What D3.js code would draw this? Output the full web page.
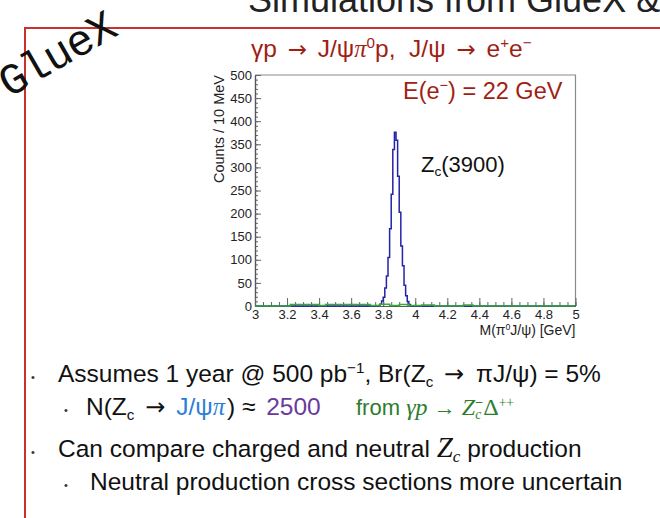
<!DOCTYPE html>
<html>
<head>
<meta charset="utf-8">
<script src="https://cdn.jsdelivr.net/npm/d3@7"></script>
<style>
  html, body { margin: 0; padding: 0; background: #fff; }
  svg { display: block; }
  text { white-space: pre; }
</style>
</head>
<body>
<svg id="slide" width="660" height="518"></svg>
<script>
// pi0 J/psi invariant mass from Z_c(3900) decays, 10 MeV bins (low edges, GeV)
const signalBinLow = [3.77, 3.78, 3.79, 3.80, 3.81, 3.82, 3.83, 3.84, 3.85, 3.86,
                      3.87, 3.88, 3.89, 3.90, 3.91, 3.92, 3.93, 3.94, 3.95, 3.96];
const signalCounts = [1, 4, 11, 19, 39, 65, 105, 167, 242, 339,
                      376, 359, 281, 203, 130, 87, 45, 22, 10, 3];
const binWidth = 0.01;

// non-resonant background, variable-width bins
const bkgEdges  = [3.0, 3.22, 3.40, 3.44, 3.72, 3.78, 3.84, 3.90, 3.96, 4.04, 4.12, 4.30, 4.36, 5.0];
const bkgCounts = [0, 3, 1, 3, 1, 4, 1, 3, 1, 2, 0, 2, 0];

const massRange  = [3, 5];
const countRange = [0, 500];
const xMajorTicks = [3, 3.2, 3.4, 3.6, 3.8, 4, 4.2, 4.4, 4.6, 4.8, 5];
const yMajorTicks = [0, 50, 100, 150, 200, 250, 300, 350, 400, 450, 500];

const svg = d3.select("#slide");
const SANS = "'Liberation Sans', Arial, Helvetica, sans-serif";
const SERIF = "'Liberation Serif', 'Times New Roman', serif";
const ARROWFONT = "'DejaVu Sans', sans-serif";
const DARKRED = "#a01e14";

// rich text: parts with optional colour, italics, serif, arrow font and sub/superscript shifts
function rich(sel, parts, baseSize) {
  let cur = 0;
  parts.forEach(p => {
    const t = sel.append("tspan").text(p.t);
    const shift = p.sup ? -baseSize * 0.38 : p.sub ? baseSize * 0.2 : 0;
    if (shift !== cur) { t.attr("dy", shift - cur); cur = shift; }
    if (p.sup || p.sub) t.attr("font-size", baseSize * 0.62);
    if (p.size) t.attr("font-size", p.size);
    if (p.dx) t.attr("dx", p.dx);
    if (p.fill) t.attr("fill", p.fill);
    if (p.italic) t.attr("font-style", "italic");
    if (p.serif) t.attr("font-family", SERIF);
    if (p.arrow) t.attr("font-family", ARROWFONT);
  });
  return sel;
}

// ---------- slide chrome ----------
svg.append("text")
  .attr("x", 248).attr("y", 12)
  .attr("font-family", SANS).attr("font-size", 36).attr("fill", "#222")
  .text("Simulations from GlueX &");

svg.append("path")
  .attr("d", "M25,518 V28 H660")
  .attr("fill", "none").attr("stroke", "#c8322c").attr("stroke-width", 2);

svg.append("text")
  .attr("transform", "translate(9,98) rotate(-30)")
  .attr("font-family", "'Liberation Mono', 'Courier New', monospace")
  .attr("font-size", 44).attr("letter-spacing", -1).attr("fill", "#111")
  .text("GlueX");

// reaction label
rich(svg.append("text").attr("x", 251).attr("y", 57)
      .attr("font-family", SANS).attr("font-size", 24.5).attr("fill", DARKRED), [
  { t: "γp " }, { t: "→", arrow: true, size: 23, dx: 4 }, { t: " J/ψ", dx: 4 },
  { t: "π", italic: true, serif: true },
  { t: "0", sup: true }, { t: "p,  J/ψ " }, { t: "→", arrow: true, size: 23, dx: 4 }, { t: " e", dx: 4 },
  { t: "+", sup: true }, { t: "e" }, { t: "−", sup: true }
], 24.5);

// ---------- histogram ----------
const plot = { left: 255, right: 575.5, top: 75, bottom: 306 };
const x = d3.scaleLinear().domain(massRange).range([plot.left, plot.right]);
const y = d3.scaleLinear().domain(countRange).range([plot.bottom, plot.top]);

// frame
svg.append("path")
  .attr("d", `M${x(massRange[0])},${y(countRange[1])} H${x(massRange[1])} V${y(0)}`)
  .attr("fill", "none").attr("stroke", "#8a8a8a").attr("stroke-width", 1.2);

// axes with inward ticks
const yAxisMinor = d3.axisLeft(y).tickValues(d3.range(0, 501, 10)).tickSizeInner(-3).tickSizeOuter(0).tickFormat("");
const yAxis = d3.axisLeft(y).tickValues(yMajorTicks).tickSizeInner(-6).tickSizeOuter(0).tickPadding(3);
const xAxisMinor = d3.axisBottom(x).tickValues(d3.range(3, 5.001, 0.05)).tickSizeInner(-4).tickSizeOuter(0).tickFormat("");
const xAxis = d3.axisBottom(x).tickValues(xMajorTicks).tickSizeInner(-8).tickSizeOuter(0).tickPadding(4)
  .tickFormat(d3.format("~g"));

function styleAxis(g) {
  g.select(".domain").attr("stroke", "#555").attr("stroke-width", 1.2);
  g.selectAll(".tick line").attr("stroke", "#666").attr("stroke-width", 1);
  g.selectAll(".tick text").attr("font-family", SANS).attr("font-size", 13).attr("fill", "#222");
}
svg.append("g").attr("transform", `translate(${plot.left},0)`).call(yAxisMinor).call(styleAxis);
svg.append("g").attr("transform", `translate(${plot.left},0)`).call(yAxis).call(styleAxis);
svg.append("g").attr("transform", `translate(0,${plot.bottom})`).call(xAxisMinor).call(styleAxis);
svg.append("g").attr("transform", `translate(0,${plot.bottom})`).call(xAxis).call(styleAxis);

// step outline of the signal histogram
const signalPts = [{ m: massRange[0], c: 0 }]
  .concat(signalBinLow.map((m, i) => ({ m, c: signalCounts[i] })))
  .concat([{ m: signalBinLow[signalBinLow.length - 1] + binWidth, c: 0 }, { m: massRange[1], c: 0 }]);
const step = d3.line().x(d => x(d.m)).y(d => y(d.c)).curve(d3.curveStepAfter);

svg.append("path").datum(signalPts).attr("d", step)
  .attr("fill", "none").attr("stroke", "#2424a8").attr("stroke-width", 1.5);

const bkgPts = bkgCounts.map((c, i) => ({ m: bkgEdges[i], c }))
  .concat([{ m: bkgEdges[bkgEdges.length - 1], c: bkgCounts[bkgCounts.length - 1] }]);
svg.append("path").datum(bkgPts).attr("d", step)
  .attr("fill", "none").attr("stroke", "#3aa83a").attr("stroke-width", 1.5);

// axis titles
svg.append("text")
  .attr("transform", `translate(224,${plot.top}) rotate(-90)`)
  .attr("text-anchor", "end")
  .attr("font-family", SANS).attr("font-size", 14.5).attr("fill", "#222")
  .text("Counts / 10 MeV");

rich(svg.append("text").attr("x", plot.right).attr("y", 335).attr("text-anchor", "end")
      .attr("font-family", SANS).attr("font-size", 14).attr("fill", "#222"), [
  { t: "M(π" }, { t: "0", sup: true }, { t: "J/ψ) [GeV]" }
], 14);

// in-plot labels
rich(svg.append("text").attr("x", 403).attr("y", 99)
      .attr("font-family", SANS).attr("font-size", 23.5).attr("fill", DARKRED), [
  { t: "E(e" }, { t: "−", sup: true }, { t: ") = 22 GeV" }
], 23.5);

rich(svg.append("text").attr("x", 421).attr("y", 172)
      .attr("font-family", SANS).attr("font-size", 22).attr("fill", "#111"), [
  { t: "Z" }, { t: "c", sub: true }, { t: "(3900)" }
], 22);

// ---------- bullet points ----------
const bullets = [
  { bx: 33, tx: 58, y: 382 },
  { bx: 66, tx: 86, y: 415 },
  { bx: 33, tx: 58, y: 457 },
  { bx: 66, tx: 90, y: 490 }
];
bullets.forEach(b => {
  svg.append("text").attr("x", b.bx).attr("y", b.y - 1)
    .attr("font-family", SANS).attr("font-size", 11).attr("fill", "#333")
    .attr("text-anchor", "middle").text("•");
});

const GREEN = "#2e7d2e", BLUE = "#2a7fd8", PURPLE = "#6a3a9c";
const FS = 24.5;

rich(svg.append("text").attr("x", bullets[0].tx).attr("y", bullets[0].y)
      .attr("font-family", SANS).attr("font-size", FS).attr("fill", "#111"), [
  { t: "Assumes 1 year @ 500 pb" }, { t: "−1", sup: true }, { t: ", Br(Z" },
  { t: "c", sub: true }, { t: " " }, { t: "→", arrow: true, size: 24, dx: 4 },
  { t: " πJ/ψ) = 5%", dx: 5 }
], FS);

rich(svg.append("text").attr("x", bullets[1].tx).attr("y", bullets[1].y)
      .attr("font-family", SANS).attr("font-size", FS).attr("fill", "#111"), [
  { t: "N(Z" }, { t: "c", sub: true }, { t: " " }, { t: "→", arrow: true, size: 24, dx: 4 },
  { t: " ", dx: 4 },
  { t: "J/ψ", fill: BLUE }, { t: "π", fill: BLUE, italic: true, serif: true },
  { t: ") ≈ ", dx: 2 }, { t: "2500", fill: PURPLE, dx: 4 }
], FS);

// production channel
const GS = 22;
rich(svg.append("text").attr("x", 356).attr("y", bullets[1].y)
      .attr("font-family", SANS).attr("font-size", GS).attr("fill", GREEN), [
  { t: "from " },
  { t: "γp", italic: true, serif: true, size: 24 }, { t: " " },
  { t: "→", serif: true }, { t: " " },
  { t: "Z", italic: true, serif: true, size: 24 },
  { t: "c", italic: true, serif: true, sub: true },
  { t: "−", sup: true, dx: -6 },
  { t: "Δ", serif: true, size: 24 },
  { t: "++", serif: true, sup: true }
], GS);

rich(svg.append("text").attr("x", bullets[2].tx).attr("y", bullets[2].y)
      .attr("font-family", SANS).attr("font-size", FS).attr("fill", "#111"), [
  { t: "Can compare charged and neutral " },
  { t: "Z", italic: true, serif: true, size: 29 },
  { t: "c", italic: true, serif: true, sub: true, size: 17 },
  { t: " production" }
], FS);

svg.append("text").attr("x", bullets[3].tx).attr("y", bullets[3].y)
  .attr("font-family", SANS).attr("font-size", FS).attr("fill", "#111")
  .text("Neutral production cross sections more uncertain");
</script>
</body>
</html>
